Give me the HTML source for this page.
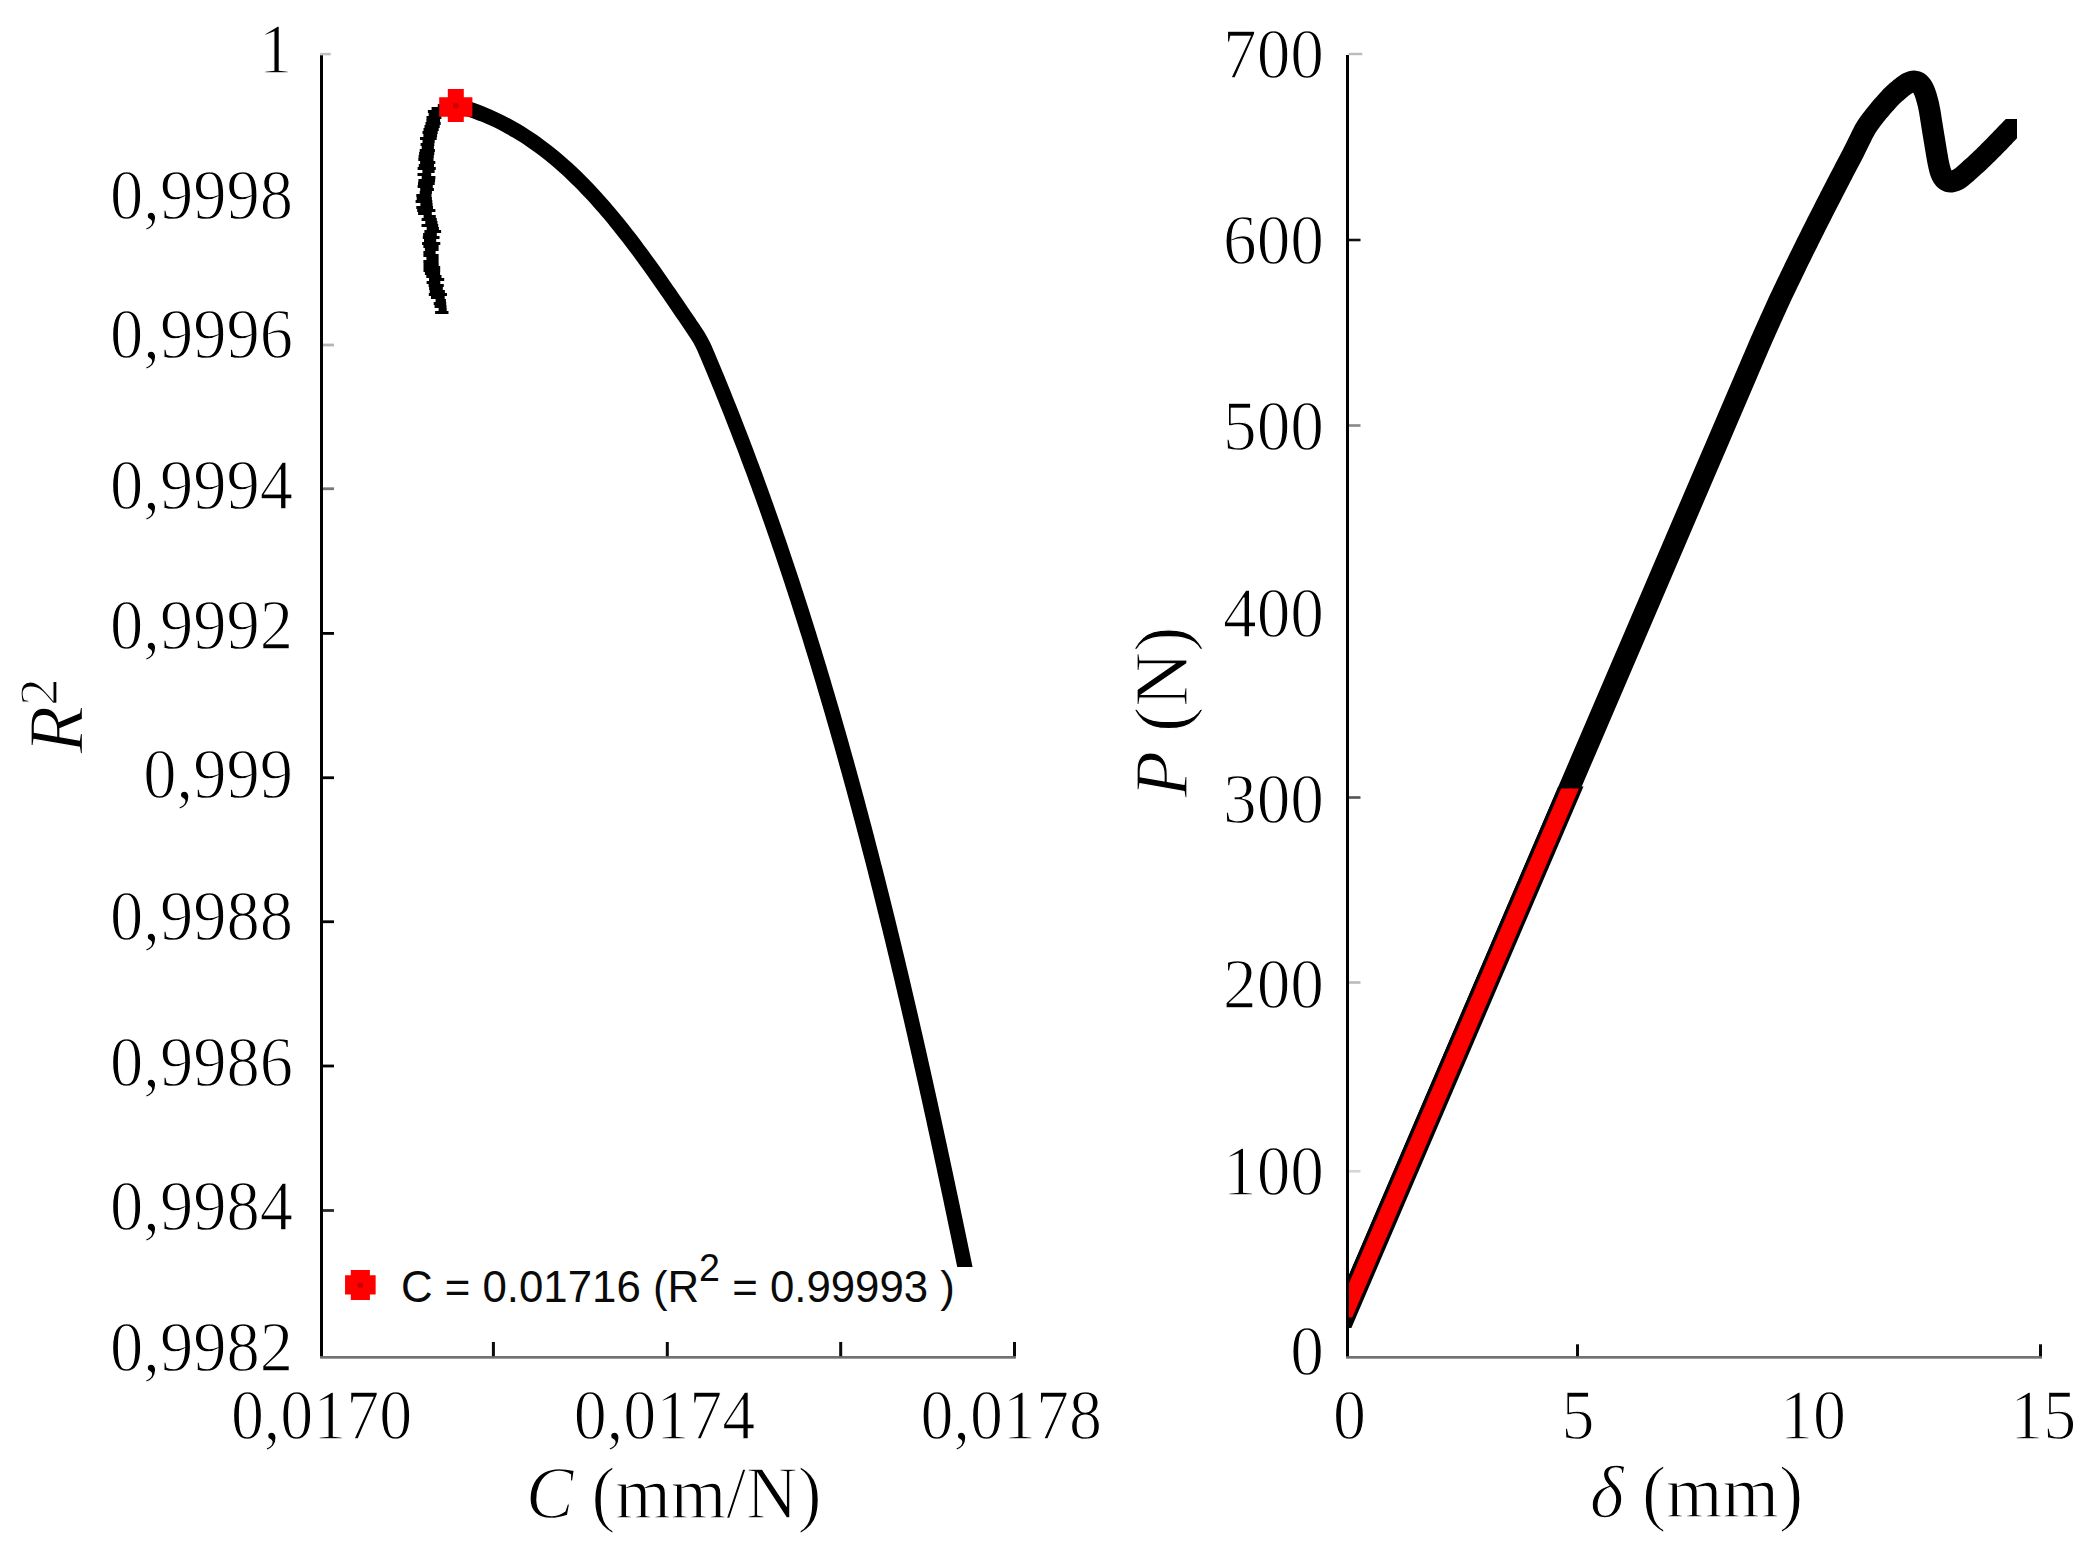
<!DOCTYPE html>
<html lang="en"><head><meta charset="utf-8"><title>R2 vs C and P vs delta</title>
<style>
html,body{margin:0;padding:0;background:#fff;}
body{width:2093px;height:1554px;overflow:hidden;}
svg{display:block;}
text{white-space:pre;}
.th{stroke:#fff;stroke-width:1.2px;}
</style></head><body>
<svg width="2093" height="1554" viewBox="0 0 2093 1554">
<rect width="2093" height="1554" fill="#fff"/>
<g id="left-axes">
<rect x="320" y="1356" width="695.9" height="2.7" fill="#727272"/>
<rect x="491.9" y="1342" width="3" height="14.2" fill="#0a0a0a"/>
<rect x="665.8" y="1342" width="3" height="14.2" fill="#0a0a0a"/>
<rect x="839.2" y="1342" width="3" height="14.2" fill="#0a0a0a"/>
<rect x="1013.0" y="1342" width="3" height="14.2" fill="#0a0a0a"/>
<rect x="320" y="55" width="3" height="1301.2" fill="#000"/>
<rect x="320" y="52.85" width="10.75" height="2.5" fill="#c0c0c0"/>
<rect x="323" y="343.6" width="11" height="2.8" fill="#b5b5b5"/>
<rect x="323" y="487.35" width="11" height="2.8" fill="#777"/>
<rect x="323" y="632.0" width="11" height="2.8" fill="#000"/>
<rect x="323" y="776.35" width="11" height="2.8" fill="#000"/>
<rect x="323" y="920.35" width="11" height="2.8" fill="#000"/>
<rect x="323" y="1064.6" width="11" height="2.8" fill="#000"/>
<rect x="323" y="1209.1" width="11" height="2.8" fill="#2a2a2a"/>
</g>
<clipPath id="lc"><rect x="300" y="0" width="800" height="1267"/></clipPath>
<path d="M462.00,106.75 C463.07,107.10 466.03,108.04 468.39,108.86 C470.76,109.67 473.52,110.62 476.22,111.63 C478.91,112.64 481.79,113.76 484.56,114.91 C487.32,116.05 490.08,117.26 492.80,118.51 C495.53,119.76 498.23,121.06 500.91,122.41 C503.59,123.75 506.24,125.15 508.87,126.60 C511.50,128.04 514.10,129.53 516.68,131.06 C519.25,132.60 521.80,134.18 524.33,135.79 C526.85,137.41 529.35,139.07 531.82,140.77 C534.30,142.47 536.74,144.21 539.16,145.98 C541.58,147.75 543.97,149.56 546.34,151.40 C548.70,153.24 551.04,155.12 553.36,157.03 C555.67,158.94 557.96,160.88 560.23,162.84 C562.49,164.81 564.73,166.81 566.94,168.83 C569.16,170.85 571.35,172.90 573.52,174.97 C575.68,177.05 577.83,179.15 579.95,181.27 C582.07,183.39 584.17,185.53 586.25,187.69 C588.33,189.85 590.39,192.04 592.42,194.24 C594.46,196.44 596.48,198.66 598.48,200.90 C600.48,203.13 602.46,205.39 604.42,207.66 C606.38,209.93 608.32,212.21 610.25,214.51 C612.18,216.81 614.09,219.12 615.98,221.45 C617.88,223.77 619.76,226.11 621.63,228.46 C623.49,230.81 625.34,233.17 627.18,235.54 C629.02,237.91 630.85,240.29 632.66,242.67 C634.48,245.06 636.28,247.46 638.07,249.87 C639.86,252.27 641.64,254.69 643.42,257.11 C645.19,259.53 646.95,261.96 648.70,264.39 C650.45,266.83 652.20,269.27 653.93,271.72 C655.67,274.16 657.40,276.61 659.12,279.07 C660.84,281.53 662.56,283.99 664.27,286.45 C665.98,288.92 667.68,291.39 669.39,293.86 C671.09,296.33 672.78,298.80 674.48,301.28 C676.17,303.76 677.86,306.23 679.55,308.71 C681.24,311.19 682.92,313.68 684.61,316.16 C686.29,318.64 687.98,321.12 689.67,323.60 C691.35,326.08 693.07,328.54 694.71,331.05 C696.36,333.55 698.04,336.03 699.53,338.62 C701.02,341.20 702.37,343.87 703.66,346.56 C704.95,349.26 706.09,352.04 707.28,354.79 C708.46,357.54 709.61,360.31 710.77,363.08 C711.93,365.85 713.09,368.62 714.24,371.39 C715.39,374.16 716.53,376.93 717.67,379.71 C718.81,382.48 719.95,385.26 721.08,388.04 C722.21,390.82 723.33,393.60 724.45,396.38 C725.58,399.16 726.69,401.95 727.80,404.73 C728.92,407.52 730.02,410.31 731.12,413.10 C732.23,415.89 733.33,418.68 734.42,421.47 C735.51,424.27 736.60,427.06 737.68,429.86 C738.77,432.66 739.85,435.46 740.92,438.26 C742.00,441.06 743.07,443.86 744.14,446.66 C745.20,449.47 746.27,452.27 747.32,455.08 C748.38,457.89 749.43,460.70 750.48,463.51 C751.53,466.32 752.58,469.13 753.62,471.95 C754.66,474.76 755.69,477.57 756.72,480.39 C757.76,483.21 758.78,486.03 759.81,488.85 C760.83,491.67 761.85,494.49 762.86,497.31 C763.88,500.14 764.89,502.96 765.90,505.79 C766.90,508.61 767.90,511.44 768.90,514.27 C769.90,517.10 770.90,519.93 771.89,522.76 C772.88,525.59 773.86,528.42 774.84,531.26 C775.83,534.09 776.81,536.93 777.78,539.77 C778.75,542.60 779.72,545.44 780.69,548.28 C781.66,551.12 782.62,553.96 783.58,556.81 C784.54,559.65 785.49,562.49 786.45,565.34 C787.40,568.18 788.34,571.03 789.29,573.88 C790.23,576.73 791.17,579.57 792.11,582.42 C793.05,585.27 793.98,588.13 794.91,590.98 C795.84,593.83 796.76,596.68 797.68,599.54 C798.61,602.39 799.52,605.25 800.44,608.11 C801.35,610.96 802.26,613.82 803.17,616.68 C804.08,619.54 804.98,622.40 805.88,625.26 C806.79,628.13 807.68,630.99 808.58,633.85 C809.47,636.72 810.36,639.58 811.25,642.45 C812.14,645.31 813.02,648.18 813.90,651.05 C814.78,653.91 815.66,656.78 816.53,659.65 C817.41,662.52 818.28,665.39 819.15,668.27 C820.01,671.14 820.88,674.01 821.74,676.88 C822.60,679.76 823.46,682.63 824.31,685.51 C825.17,688.38 826.02,691.26 826.87,694.14 C827.72,697.01 828.56,699.89 829.41,702.77 C830.25,705.65 831.09,708.53 831.93,711.41 C832.76,714.29 833.60,717.17 834.43,720.06 C835.26,722.94 836.09,725.82 836.91,728.71 C837.74,731.59 838.56,734.48 839.38,737.36 C840.20,740.25 841.02,743.13 841.83,746.02 C842.64,748.91 843.46,751.80 844.26,754.69 C845.07,757.58 845.88,760.47 846.68,763.36 C847.48,766.25 848.28,769.14 849.08,772.03 C849.88,774.92 850.67,777.81 851.47,780.71 C852.26,783.60 853.05,786.50 853.84,789.39 C854.62,792.29 855.41,795.18 856.19,798.08 C856.97,800.97 857.75,803.87 858.53,806.77 C859.30,809.67 860.08,812.57 860.85,815.46 C861.62,818.36 862.39,821.26 863.16,824.16 C863.92,827.06 864.69,829.97 865.45,832.87 C866.21,835.77 866.97,838.67 867.73,841.57 C868.48,844.48 869.24,847.38 869.99,850.28 C870.74,853.19 871.49,856.09 872.24,859.00 C872.98,861.90 873.73,864.81 874.47,867.72 C875.21,870.62 875.96,873.53 876.69,876.44 C877.43,879.35 878.17,882.25 878.90,885.16 C879.63,888.07 880.37,890.98 881.10,893.89 C881.82,896.80 882.55,899.71 883.28,902.62 C884.00,905.54 884.72,908.45 885.44,911.36 C886.16,914.27 886.88,917.18 887.60,920.10 C888.32,923.01 889.03,925.92 889.74,928.84 C890.45,931.75 891.16,934.67 891.87,937.58 C892.58,940.50 893.29,943.41 893.99,946.33 C894.70,949.25 895.40,952.16 896.10,955.08 C896.80,958.00 897.50,960.91 898.19,963.83 C898.89,966.75 899.58,969.67 900.28,972.59 C900.97,975.51 901.66,978.43 902.35,981.35 C903.04,984.27 903.72,987.19 904.41,990.11 C905.09,993.03 905.78,995.95 906.46,998.87 C907.14,1001.79 907.82,1004.71 908.50,1007.64 C909.18,1010.56 909.85,1013.48 910.53,1016.40 C911.20,1019.33 911.88,1022.25 912.55,1025.17 C913.22,1028.10 913.89,1031.02 914.56,1033.95 C915.22,1036.87 915.89,1039.80 916.56,1042.72 C917.22,1045.65 917.88,1048.57 918.55,1051.50 C919.21,1054.43 919.87,1057.35 920.53,1060.28 C921.18,1063.21 921.84,1066.13 922.50,1069.06 C923.15,1071.99 923.81,1074.92 924.46,1077.84 C925.11,1080.77 925.76,1083.70 926.41,1086.63 C927.06,1089.56 927.71,1092.49 928.36,1095.42 C929.01,1098.35 929.65,1101.28 930.30,1104.21 C930.94,1107.14 931.58,1110.07 932.22,1113.00 C932.87,1115.93 933.51,1118.86 934.15,1121.79 C934.78,1124.72 935.42,1127.65 936.06,1130.58 C936.70,1133.52 937.33,1136.45 937.97,1139.38 C938.60,1142.31 939.23,1145.24 939.86,1148.18 C940.50,1151.11 941.13,1154.04 941.76,1156.98 C942.39,1159.91 943.01,1162.84 943.64,1165.78 C944.27,1168.71 944.89,1171.64 945.52,1174.58 C946.14,1177.51 946.77,1180.45 947.39,1183.38 C948.02,1186.32 948.64,1189.25 949.26,1192.19 C949.88,1195.12 950.50,1198.06 951.12,1200.99 C951.74,1203.93 952.36,1206.86 952.97,1209.80 C953.59,1212.73 954.21,1215.67 954.82,1218.61 C955.44,1221.54 956.05,1224.48 956.67,1227.42 C957.28,1230.35 957.89,1233.29 958.50,1236.23 C959.12,1239.16 959.73,1242.10 960.34,1245.04 C960.95,1247.97 961.57,1250.95 962.17,1253.84 C962.76,1256.73 963.41,1259.87 963.93,1262.36 C964.45,1264.85 964.89,1267.01 965.26,1268.78 C965.62,1270.55 965.98,1272.28 966.13,1272.98" fill="none" stroke="#000" stroke-width="15" stroke-linejoin="round" stroke-linecap="butt" clip-path="url(#lc)"/>
<polygon points="437.8,104.0 437.8,107.0 431.6,107.0 431.6,110.0 427.9,110.0 427.9,113.0 428.7,113.0 428.7,116.0 426.5,116.0 426.5,119.0 426.4,119.0 426.4,122.0 425.5,122.0 425.5,125.0 424.5,125.0 424.5,128.0 423.5,128.0 423.5,131.0 422.5,131.0 422.5,134.0 423.4,134.0 423.4,137.0 420.0,137.0 420.0,140.0 422.5,140.0 422.5,143.0 420.6,143.0 420.6,146.0 421.7,146.0 421.7,149.0 419.7,149.0 419.7,152.0 419.1,152.0 419.1,155.0 418.6,155.0 418.6,158.0 418.3,158.0 418.3,161.0 420.1,161.0 420.1,164.0 418.8,164.0 418.8,167.0 417.6,167.0 417.6,170.0 422.4,170.0 422.4,173.0 417.5,173.0 417.5,176.0 421.7,176.0 421.7,179.0 418.4,179.0 418.4,182.0 418.0,182.0 418.0,185.0 417.6,185.0 417.6,188.0 420.2,188.0 420.2,191.0 419.7,191.0 419.7,194.0 416.3,194.0 416.3,197.0 416.7,197.0 416.7,200.0 415.6,200.0 415.6,203.0 420.4,203.0 420.4,206.0 416.3,206.0 416.3,209.0 417.2,209.0 417.2,212.0 418.1,212.0 418.1,215.0 423.6,215.0 423.6,218.0 421.6,218.0 421.6,221.0 425.3,221.0 425.3,224.0 421.5,224.0 421.5,227.0 426.7,227.0 426.7,230.0 424.4,230.0 424.4,233.0 423.1,233.0 423.1,236.0 422.8,236.0 422.8,239.0 424.0,239.0 424.0,242.0 422.1,242.0 422.1,245.0 423.4,245.0 423.4,248.0 424.9,248.0 424.9,251.0 423.4,251.0 423.4,254.0 423.4,254.0 423.4,257.0 426.4,257.0 426.4,260.0 423.4,260.0 423.4,263.0 423.5,263.0 423.5,266.0 423.5,266.0 423.5,269.0 423.5,269.0 423.5,272.0 424.9,272.0 424.9,275.0 426.3,275.0 426.3,278.0 429.0,278.0 429.0,281.0 426.6,281.0 426.6,284.0 428.6,284.0 428.6,287.0 429.1,287.0 429.1,290.0 429.7,290.0 429.7,293.0 428.8,293.0 428.8,296.0 431.0,296.0 431.0,299.0 435.6,299.0 435.6,302.0 433.7,302.0 433.7,305.0 434.6,305.0 434.6,308.0 438.6,308.0 438.6,311.0 435.1,311.0 435.1,314.0 448.5,314.0 448.5,311.0 446.7,311.0 446.7,308.0 446.5,308.0 446.5,305.0 446.2,305.0 446.2,302.0 445.9,302.0 445.9,299.0 444.7,299.0 444.7,296.0 447.0,296.0 447.0,293.0 444.9,293.0 444.9,290.0 442.8,290.0 442.8,287.0 443.8,287.0 443.8,284.0 440.3,284.0 440.3,281.0 444.2,281.0 444.2,278.0 441.5,278.0 441.5,275.0 440.1,275.0 440.1,272.0 440.2,272.0 440.2,269.0 440.2,269.0 440.2,266.0 438.7,266.0 438.7,263.0 438.6,263.0 438.6,260.0 438.6,260.0 438.6,257.0 438.6,257.0 438.6,254.0 435.6,254.0 435.6,251.0 438.6,251.0 438.6,248.0 438.6,248.0 438.6,245.0 440.3,245.0 440.3,242.0 436.2,242.0 436.2,239.0 439.5,239.0 439.5,236.0 436.8,236.0 436.8,233.0 441.1,233.0 441.1,230.0 438.9,230.0 438.9,227.0 438.2,227.0 438.2,224.0 437.5,224.0 437.5,221.0 436.8,221.0 436.8,218.0 435.8,218.0 435.8,215.0 431.8,215.0 431.8,212.0 435.4,212.0 435.4,209.0 433.0,209.0 433.0,206.0 432.6,206.0 432.6,203.0 432.3,203.0 432.3,200.0 431.9,200.0 431.9,197.0 431.5,197.0 431.5,194.0 431.9,194.0 431.9,191.0 433.9,191.0 433.9,188.0 432.8,188.0 432.8,185.0 434.7,185.0 434.7,182.0 435.1,182.0 435.1,179.0 435.4,179.0 435.4,176.0 431.2,176.0 431.2,173.0 434.6,173.0 434.6,170.0 435.8,170.0 435.8,167.0 434.0,167.0 434.0,164.0 435.3,164.0 435.3,161.0 433.5,161.0 433.5,158.0 433.8,158.0 433.8,155.0 434.3,155.0 434.3,152.0 434.9,152.0 434.9,149.0 433.9,149.0 433.9,146.0 434.3,146.0 434.3,143.0 434.7,143.0 434.7,140.0 436.7,140.0 436.7,137.0 437.1,137.0 437.1,134.0 437.7,134.0 437.7,131.0 438.7,131.0 438.7,128.0 439.7,128.0 439.7,125.0 440.7,125.0 440.7,122.0 440.1,122.0 440.1,119.0 441.4,119.0 441.4,116.0 443.6,116.0 443.6,113.0 444.3,113.0 444.3,110.0 446.5,110.0 446.5,107.0 454.2,107.0 454.2,104.0" fill="#000"/>
<polygon points="447.80,89.10 463.80,89.10 463.80,97.20 472.40,97.20 472.40,116.80 463.80,116.80 463.80,121.90 447.80,121.90 447.80,116.80 439.20,116.80 439.20,97.20 447.80,97.20" fill="#ff0000"/>
<rect x="453.20" y="103.50" width="5.2" height="4.6" fill="#c40000"/>
<polygon points="350.80,1269.90 369.90,1269.90 369.90,1275.20 375.65,1275.20 375.65,1294.60 369.90,1294.60 369.90,1299.90 350.80,1299.90 350.80,1294.60 345.05,1294.60 345.05,1275.20 350.80,1275.20" fill="#ff0000"/>
<rect x="357.75" y="1282.90" width="5.2" height="4.6" fill="#c40000"/>
<text class="lg" transform="translate(401.00,1302.00) scale(1.0020,1.0200)" font-family='"Liberation Sans", sans-serif' font-size="43.7" text-anchor="start" fill="#0a0a0a">C = 0.01716 (R<tspan dy="-20.5" font-size="37.5">2</tspan><tspan dy="20.5"> = 0.99993 )</tspan></text>
<text class="th" transform="translate(292.30,72.50) scale(1.0080,1.0750)" font-family='"Liberation Serif", serif' font-size="66" text-anchor="end" fill="#000">1</text>
<text class="th" transform="translate(293.00,218.75) scale(1.0080,1.0750)" font-family='"Liberation Serif", serif' font-size="66" text-anchor="end" fill="#000">0,9998</text>
<text class="th" transform="translate(293.00,357.50) scale(1.0080,1.0750)" font-family='"Liberation Serif", serif' font-size="66" text-anchor="end" fill="#000">0,9996</text>
<text class="th" transform="translate(293.00,508.75) scale(1.0080,1.0750)" font-family='"Liberation Serif", serif' font-size="66" text-anchor="end" fill="#000">0,9994</text>
<text class="th" transform="translate(293.00,648.75) scale(1.0080,1.0750)" font-family='"Liberation Serif", serif' font-size="66" text-anchor="end" fill="#000">0,9992</text>
<text class="th" transform="translate(293.00,797.50) scale(1.0080,1.0750)" font-family='"Liberation Serif", serif' font-size="66" text-anchor="end" fill="#000">0,999</text>
<text class="th" transform="translate(293.00,940.00) scale(1.0080,1.0750)" font-family='"Liberation Serif", serif' font-size="66" text-anchor="end" fill="#000">0,9988</text>
<text class="th" transform="translate(293.00,1086.25) scale(1.0080,1.0750)" font-family='"Liberation Serif", serif' font-size="66" text-anchor="end" fill="#000">0,9986</text>
<text class="th" transform="translate(293.00,1230.00) scale(1.0080,1.0750)" font-family='"Liberation Serif", serif' font-size="66" text-anchor="end" fill="#000">0,9984</text>
<text class="th" transform="translate(293.00,1371.25) scale(1.0080,1.0750)" font-family='"Liberation Serif", serif' font-size="66" text-anchor="end" fill="#000">0,9982</text>
<text class="th" transform="translate(321.60,1439.10) scale(1.0000,1.0750)" font-family='"Liberation Serif", serif' font-size="66" text-anchor="middle" fill="#000">0,0170</text>
<text class="th" transform="translate(664.40,1439.10) scale(1.0000,1.0750)" font-family='"Liberation Serif", serif' font-size="66" text-anchor="middle" fill="#000">0,0174</text>
<text class="th" transform="translate(1011.25,1439.10) scale(1.0000,1.0750)" font-family='"Liberation Serif", serif' font-size="66" text-anchor="middle" fill="#000">0,0178</text>
<text class="th" transform="translate(526.00,1517.50) scale(1.0200,1.0600)" font-family='"Liberation Serif", serif' font-size="70" text-anchor="start" fill="#000"><tspan font-style="italic">C</tspan> (mm/N)</text>
<text class="th" transform="translate(82.00,753.50) rotate(-90)" font-family='"Liberation Serif", serif' font-size="78" text-anchor="start" fill="#000"><tspan font-style="italic">R</tspan><tspan dy="-25" font-size="55">2</tspan></text>
<clipPath id="rc"><polygon points="1346,0 1990,0 1990,119 2017,119 2017,1328 1346,1328"/></clipPath>
<path d="M1331.48,1345.00 C1334.56,1337.50 1344.03,1314.17 1349.97,1300.00 C1355.91,1285.83 1361.40,1273.33 1367.11,1260.00 C1372.83,1246.67 1378.54,1233.33 1384.26,1220.00 C1389.97,1206.67 1395.69,1193.33 1401.40,1180.00 C1407.12,1166.67 1412.83,1153.33 1418.55,1140.00 C1424.26,1126.67 1429.98,1113.33 1435.69,1100.00 C1441.40,1086.67 1447.12,1073.33 1452.83,1060.00 C1458.55,1046.67 1464.26,1033.33 1469.98,1020.00 C1475.69,1006.67 1481.41,993.33 1487.12,980.00 C1492.84,966.67 1498.55,953.33 1504.27,940.00 C1509.98,926.67 1515.70,913.33 1521.41,900.00 C1527.12,886.67 1532.84,873.33 1538.55,860.00 C1544.27,846.67 1549.98,833.33 1555.70,820.00 C1561.41,806.67 1567.13,793.33 1572.84,780.00 C1578.56,766.67 1584.27,753.33 1589.99,740.00 C1595.70,726.67 1601.42,713.33 1607.13,700.00 C1612.84,686.67 1618.56,673.33 1624.27,660.00 C1629.99,646.67 1635.70,633.33 1641.42,620.00 C1647.13,606.67 1652.85,593.33 1658.56,580.00 C1664.28,566.67 1669.99,553.33 1675.71,540.00 C1681.42,526.67 1687.14,513.33 1692.85,500.00 C1698.56,486.67 1704.28,473.33 1709.99,460.00 C1715.71,446.67 1721.01,434.29 1727.14,420.00 C1733.26,405.71 1743.23,382.44 1746.75,374.24 C1750.27,366.03 1747.73,371.96 1748.24,370.77 C1748.74,369.59 1749.28,368.35 1749.80,367.13 C1750.32,365.91 1750.85,364.68 1751.37,363.46 C1751.90,362.23 1752.42,361.00 1752.95,359.78 C1753.47,358.55 1754.00,357.33 1754.52,356.10 C1755.05,354.88 1755.57,353.65 1756.10,352.43 C1756.63,351.20 1757.15,349.97 1757.68,348.75 C1758.20,347.52 1758.73,346.30 1759.26,345.08 C1759.79,343.85 1760.31,342.63 1760.85,341.41 C1761.38,340.18 1761.92,338.96 1762.46,337.74 C1763.00,336.52 1763.54,335.31 1764.08,334.09 C1764.63,332.87 1765.17,331.66 1765.72,330.44 C1766.26,329.22 1766.81,328.01 1767.36,326.79 C1767.90,325.57 1768.45,324.36 1768.99,323.14 C1769.54,321.92 1770.09,320.71 1770.63,319.49 C1771.18,318.27 1771.72,317.06 1772.27,315.84 C1772.82,314.63 1773.36,313.41 1773.91,312.19 C1774.46,310.98 1775.00,309.76 1775.55,308.54 C1776.10,307.33 1776.64,306.11 1777.19,304.90 C1777.74,303.68 1778.30,302.47 1778.86,301.26 C1779.41,300.05 1779.98,298.84 1780.55,297.64 C1781.11,296.43 1781.69,295.23 1782.26,294.02 C1782.84,292.82 1783.41,291.62 1783.99,290.41 C1784.57,289.21 1785.14,288.01 1785.72,286.81 C1786.30,285.61 1786.88,284.41 1787.45,283.20 C1788.03,282.00 1788.61,280.80 1789.19,279.60 C1789.76,278.40 1790.34,277.20 1790.92,275.99 C1791.50,274.79 1792.08,273.59 1792.65,272.39 C1793.23,271.19 1793.81,269.98 1794.39,268.78 C1794.96,267.58 1795.54,266.38 1796.12,265.18 C1796.70,263.98 1797.28,262.78 1797.87,261.58 C1798.45,260.38 1799.04,259.18 1799.62,257.99 C1800.21,256.79 1800.80,255.59 1801.39,254.40 C1801.98,253.20 1802.58,252.01 1803.17,250.82 C1803.76,249.62 1804.36,248.43 1804.95,247.23 C1805.54,246.04 1806.14,244.85 1806.73,243.65 C1807.32,242.46 1807.92,241.26 1808.51,240.07 C1809.10,238.88 1809.70,237.68 1810.29,236.49 C1810.88,235.29 1811.48,234.10 1812.08,232.91 C1812.67,231.72 1813.27,230.52 1813.87,229.33 C1814.47,228.14 1815.07,226.95 1815.67,225.76 C1816.27,224.57 1816.88,223.38 1817.48,222.19 C1818.08,221.00 1818.69,219.82 1819.29,218.63 C1819.89,217.44 1820.50,216.25 1821.10,215.06 C1821.71,213.87 1822.31,212.68 1822.91,211.49 C1823.52,210.31 1824.12,209.12 1824.73,207.93 C1825.33,206.74 1825.93,205.55 1826.54,204.36 C1827.14,203.18 1827.75,201.99 1828.36,200.80 C1828.97,199.61 1829.57,198.43 1830.18,197.24 C1830.79,196.06 1831.41,194.87 1832.02,193.69 C1832.63,192.50 1833.24,191.32 1833.85,190.13 C1834.47,188.95 1835.08,187.76 1835.69,186.58 C1836.30,185.40 1836.92,184.21 1837.53,183.03 C1838.14,181.84 1838.75,180.66 1839.37,179.47 C1839.98,178.29 1840.59,177.11 1841.21,175.92 C1841.83,174.74 1842.44,173.56 1843.06,172.38 C1843.68,171.20 1844.29,170.01 1844.91,168.83 C1845.53,167.65 1846.15,166.47 1846.77,165.29 C1847.39,164.11 1848.01,162.93 1848.63,161.75 C1849.25,160.57 1849.87,159.39 1850.48,158.21 C1851.10,157.02 1851.72,155.84 1852.33,154.66 C1852.95,153.47 1853.56,152.29 1854.16,151.10 C1854.77,149.91 1855.37,148.72 1855.96,147.53 C1856.56,146.34 1857.15,145.14 1857.73,143.94 C1858.32,142.75 1858.91,141.55 1859.49,140.35 C1860.08,139.15 1860.66,137.95 1861.25,136.76 C1861.84,135.56 1862.42,134.36 1863.03,133.18 C1863.64,132.00 1864.25,130.81 1864.90,129.66 C1865.55,128.50 1866.23,127.36 1866.94,126.24 C1867.66,125.12 1868.42,124.03 1869.19,122.95 C1869.96,121.86 1870.76,120.80 1871.57,119.74 C1872.37,118.68 1873.19,117.62 1874.01,116.58 C1874.84,115.53 1875.68,114.49 1876.52,113.46 C1877.37,112.43 1878.22,111.41 1879.08,110.40 C1879.94,109.38 1880.81,108.37 1881.68,107.35 C1882.55,106.34 1883.42,105.33 1884.29,104.33 C1885.17,103.32 1886.04,102.31 1886.93,101.32 C1887.81,100.32 1888.70,99.33 1889.62,98.37 C1890.53,97.40 1891.47,96.46 1892.43,95.54 C1893.38,94.61 1894.37,93.72 1895.36,92.83 C1896.35,91.94 1897.36,91.08 1898.38,90.21 C1899.39,89.35 1900.41,88.48 1901.44,87.65 C1902.48,86.82 1903.52,85.98 1904.59,85.22 C1905.66,84.47 1906.76,83.71 1907.89,83.12 C1909.02,82.54 1910.20,81.99 1911.36,81.70 C1912.53,81.40 1913.75,81.25 1914.87,81.37 C1915.99,81.50 1917.12,81.87 1918.11,82.44 C1919.10,83.01 1920.00,83.85 1920.80,84.77 C1921.60,85.68 1922.29,86.80 1922.91,87.91 C1923.53,89.03 1924.06,90.26 1924.55,91.47 C1925.04,92.69 1925.45,93.96 1925.85,95.22 C1926.26,96.48 1926.62,97.77 1926.97,99.05 C1927.33,100.33 1927.67,101.62 1927.99,102.91 C1928.31,104.21 1928.61,105.50 1928.88,106.81 C1929.15,108.11 1929.40,109.42 1929.63,110.73 C1929.87,112.04 1930.08,113.36 1930.29,114.67 C1930.51,115.99 1930.71,117.31 1930.91,118.62 C1931.12,119.94 1931.33,121.26 1931.54,122.57 C1931.74,123.89 1931.95,125.21 1932.17,126.52 C1932.38,127.84 1932.59,129.16 1932.81,130.47 C1933.02,131.79 1933.24,133.10 1933.46,134.42 C1933.67,135.73 1933.89,137.05 1934.11,138.37 C1934.33,139.68 1934.54,141.00 1934.76,142.31 C1934.98,143.63 1935.20,144.94 1935.41,146.26 C1935.63,147.57 1935.85,148.89 1936.07,150.20 C1936.29,151.52 1936.50,152.84 1936.73,154.15 C1936.95,155.46 1937.17,156.78 1937.40,158.09 C1937.64,159.40 1937.88,160.71 1938.14,162.02 C1938.40,163.33 1938.66,164.64 1938.96,165.93 C1939.26,167.23 1939.55,168.53 1939.91,169.80 C1940.27,171.07 1940.64,172.35 1941.12,173.55 C1941.60,174.74 1942.12,175.95 1942.79,176.98 C1943.46,178.01 1944.24,179.00 1945.13,179.73 C1946.03,180.46 1947.08,181.05 1948.16,181.38 C1949.25,181.70 1950.46,181.78 1951.63,181.68 C1952.80,181.57 1954.03,181.20 1955.19,180.75 C1956.35,180.30 1957.49,179.64 1958.60,178.96 C1959.70,178.28 1960.77,177.48 1961.82,176.68 C1962.87,175.88 1963.88,175.01 1964.89,174.15 C1965.91,173.29 1966.90,172.40 1967.90,171.52 C1968.90,170.63 1969.89,169.74 1970.88,168.85 C1971.87,167.95 1972.86,167.06 1973.84,166.16 C1974.83,165.27 1975.82,164.37 1976.80,163.47 C1977.78,162.56 1978.75,161.66 1979.72,160.74 C1980.69,159.82 1981.65,158.90 1982.61,157.97 C1983.57,157.05 1984.52,156.11 1985.47,155.18 C1986.42,154.24 1987.36,153.30 1988.31,152.36 C1989.25,151.42 1990.19,150.47 1991.13,149.53 C1992.08,148.58 1993.01,147.64 1993.95,146.69 C1994.89,145.74 1995.82,144.79 1996.75,143.83 C1997.69,142.88 1998.62,141.93 1999.54,140.97 C2000.47,140.01 2001.40,139.05 2002.32,138.09 C2003.25,137.13 2004.17,136.17 2005.09,135.20 C2006.02,134.24 2006.94,133.28 2007.86,132.32 C2008.78,131.36 2009.71,130.39 2010.62,129.44 C2011.53,128.49 2012.47,127.52 2013.33,126.63 C2014.19,125.73 2015.06,124.82 2015.77,124.09 C2016.48,123.35 2016.72,123.10 2017.59,122.20 C2018.46,121.31 2019.43,120.32 2021.00,118.70 C2022.57,117.08 2026.00,113.53 2027.00,112.50" fill="none" stroke="#000" stroke-width="21.5" stroke-linejoin="round" stroke-linecap="butt" clip-path="url(#rc)"/>
<clipPath id="rr"><rect x="1346" y="786.5" width="800" height="541.5"/></clipPath>
<path d="M1331.48,1345 L1607.93,700" fill="none" stroke="#000" stroke-width="23.2" clip-path="url(#rr)"/>
<clipPath id="rr2"><rect x="1346" y="788.5" width="800" height="529"/></clipPath>
<path d="M1331.48,1345 L1607.93,700" fill="none" stroke="#ff0000" stroke-width="16.4" clip-path="url(#rr2)"/>
<g id="right-axes">
<rect x="1346" y="1356" width="696" height="2.7" fill="#727272"/>
<rect x="1576.0" y="1344.3" width="3" height="11.9" fill="#0a0a0a"/>
<rect x="2039.0" y="1344.3" width="3" height="11.9" fill="#0a0a0a"/>
<rect x="1346" y="55" width="3" height="1301.2" fill="#000"/>
<rect x="1348.6" y="52.800000000000004" width="13.7" height="2.4" fill="#bbb"/>
<rect x="1349" y="238.7" width="11.5" height="2.6" fill="#111"/>
<rect x="1349" y="424.2" width="11.5" height="2.6" fill="#888"/>
<rect x="1349" y="796.2" width="11.5" height="2.6" fill="#555"/>
<rect x="1349" y="981.2" width="11.5" height="2.6" fill="#bbb"/>
<rect x="1349" y="1169.95" width="11.5" height="2.6" fill="#d5d5d5"/>
</g>
<text class="th" transform="translate(1324.00,77.50) scale(1.0200,1.0750)" font-family='"Liberation Serif", serif' font-size="66" text-anchor="end" fill="#000">700</text>
<text class="th" transform="translate(1324.00,264.00) scale(1.0200,1.0750)" font-family='"Liberation Serif", serif' font-size="66" text-anchor="end" fill="#000">600</text>
<text class="th" transform="translate(1324.00,450.40) scale(1.0200,1.0750)" font-family='"Liberation Serif", serif' font-size="66" text-anchor="end" fill="#000">500</text>
<text class="th" transform="translate(1324.00,636.70) scale(1.0200,1.0750)" font-family='"Liberation Serif", serif' font-size="66" text-anchor="end" fill="#000">400</text>
<text class="th" transform="translate(1324.00,823.00) scale(1.0200,1.0750)" font-family='"Liberation Serif", serif' font-size="66" text-anchor="end" fill="#000">300</text>
<text class="th" transform="translate(1324.00,1008.20) scale(1.0200,1.0750)" font-family='"Liberation Serif", serif' font-size="66" text-anchor="end" fill="#000">200</text>
<text class="th" transform="translate(1324.00,1194.75) scale(1.0200,1.0750)" font-family='"Liberation Serif", serif' font-size="66" text-anchor="end" fill="#000">100</text>
<text class="th" transform="translate(1324.00,1374.70) scale(1.0200,1.0750)" font-family='"Liberation Serif", serif' font-size="66" text-anchor="end" fill="#000">0</text>
<text class="th" transform="translate(1349.50,1438.80) scale(1.0000,1.0750)" font-family='"Liberation Serif", serif' font-size="66" text-anchor="middle" fill="#000">0</text>
<text class="th" transform="translate(1578.00,1438.80) scale(1.0000,1.0750)" font-family='"Liberation Serif", serif' font-size="66" text-anchor="middle" fill="#000">5</text>
<text class="th" transform="translate(1813.00,1438.80) scale(1.0000,1.0750)" font-family='"Liberation Serif", serif' font-size="66" text-anchor="middle" fill="#000">10</text>
<text class="th" transform="translate(2043.20,1438.80) scale(1.0000,1.0750)" font-family='"Liberation Serif", serif' font-size="66" text-anchor="middle" fill="#000">15</text>
<text class="th" transform="translate(1590.00,1516.50) scale(1.0375,1.0600)" font-family='"Liberation Serif", serif' font-size="70" text-anchor="start" fill="#000"><tspan font-style="italic">δ</tspan> (mm)</text>
<text class="th" transform="translate(1186.50,797.50) rotate(-90)" font-family='"Liberation Serif", serif' font-size="76" text-anchor="start" fill="#000"><tspan font-style="italic">P</tspan> (N)</text>
</svg></body></html>
